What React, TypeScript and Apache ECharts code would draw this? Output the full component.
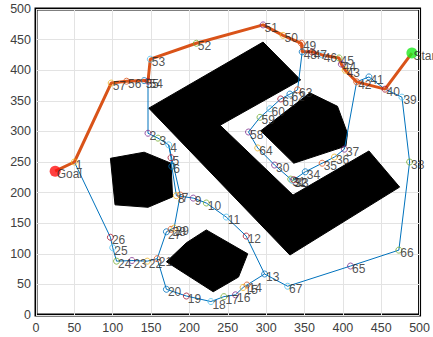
import React, { useEffect, useRef } from "react";
import * as echarts from "echarts";

// Node coordinates (node id = index + 1)
const nodeX = [50,146,159,173,176,177,188,183,205,222,248,274,298,275,270,260,245,228,196,170,158,145,125,105,100,97,170,176,180,311,332,334,336,351,373,389,402,487,477,455,434,418,403,398,395,373,360,347,346,322,296,209,149,146,141,118,98,277,292,305,319,331,341,289,410,473,328];
const nodeY = [250,297,289,278,257,243,196,195,191,183,160,129,67,49,45,33,30,22,31,42,92,88,89,88,110,127,136,140,142,245,222,220,221,234,248,258,271,250,356,369,389,381,400,410,420,425,430,430,444,457,474,444,418,382,383,382,379,299,323,337,353,361,368,273,80,106,47];

const startPoint = [490, 428];
const goalPoint = [25, 235];

// Graph edges drawn as polylines of node ids
const blueRoutes = [
  [1,26,25,24,23,22,21,20,19,18,17,16,15,14,13,67,65,66,38,39,40,41,42,37,36,35,34,33,32,31,30,64,58,59,60,61,62,63,48,47,46,45,44,43,42],
  [54,2,3,4,5,6,8,9,10,11,12,13],
  [4,7,29,28,27,21],
];
// Planned path: 0 = Goal, 100 = Start
const pathRoute = [0,1,57,56,55,54,53,52,51,50,49,48,47,46,45,44,43,42,40,100];

// Obstacles
const obstacleBig = [[147,338],[296,446],[345,384],[240,310],[335,196],[434,268],[474,209],[331,98]];
const obstacleHex = [[293,301],[357,363],[393,341],[406,297],[404,276],[336,248]];
const obstacleLeft = [[97,256],[141,266],[176,248],[178,193],[146,176],[103,180]];
const obstacleLow = [[170,87],[196,118],[222,139],[276,100],[264,62],[231,38]];

const axisTicks = [0,50,100,150,200,250,300,350,400,450,500];

const palette = ["#0072BD","#D95319","#EDB120","#7E2F8E","#77AC30","#4DBEEE","#A2142F"];
const FONT = "'Liberation Sans', Arial, Helvetica, sans-serif";

function pt(id: number): number[] {
  if (id === 0) return goalPoint;
  if (id === 100) return startPoint;
  return [nodeX[id - 1], nodeY[id - 1]];
}

function polySeries(verts: number[][]) {
  return {
    type: "custom",
    z: 1,
    silent: true,
    data: verts,
    renderItem: (params: any, api: any) => {
      if (params.dataIndex !== 0) return null;
      return {
        type: "polygon",
        shape: { points: verts.map((v) => api.coord(v)) },
        style: { fill: "#000", stroke: "#000" },
      };
    },
  };
}

export default function App() {
  const ref = useRef<HTMLDivElement>(null);
  useEffect(() => {
    if (!ref.current) return;
    const chart = echarts.init(ref.current, undefined, { renderer: "svg" });
    const nodes = nodeX.map((x, i) => ({
      value: [x, nodeY[i]],
      name: String(i + 1),
      itemStyle: { color: "rgba(0,0,0,0)", borderColor: palette[(i + 2) % 7], borderWidth: 1 },
    }));
    const series: any[] = [
      polySeries(obstacleBig),
      polySeries(obstacleHex),
      polySeries(obstacleLeft),
      polySeries(obstacleLow),
      ...blueRoutes.map((r) => ({
        type: "line",
        z: 2,
        data: r.map(pt),
        symbol: "none",
        lineStyle: { color: "#0072BD", width: 1 },
        silent: true,
      })),
      {
        type: "line",
        z: 3,
        data: pathRoute.map(pt),
        symbol: "none",
        lineStyle: { color: "#D95319", width: 3 },
        silent: true,
      },
      {
        type: "scatter",
        z: 4,
        data: nodes,
        symbol: "circle",
        symbolSize: 6,
        label: {
          show: true,
          formatter: (p: any) => p.name,
          position: "right",
          distance: 0,
          offset: [-2, 3],
          fontSize: 12,
          fontFamily: FONT,
          color: "#262626",
        },
        silent: true,
      },
      {
        type: "scatter",
        z: 5,
        data: [
          { value: startPoint, name: "Start", itemStyle: { color: "#1EE81E" } },
          { value: goalPoint, name: "Goal", itemStyle: { color: "#FF1010" } },
        ],
        symbol: "circle",
        symbolSize: 11,
        label: {
          show: true,
          formatter: (p: any) => p.name,
          position: "right",
          distance: 0,
          offset: [-4, 3],
          fontSize: 12,
          fontFamily: FONT,
          color: "#262626",
        },
        silent: true,
      },
    ];
    const axisCommon = {
      type: "value",
      min: 0,
      max: 500,
      interval: 50,
      axisLine: { show: false },
      axisTick: { show: false },
      splitLine: { show: true, lineStyle: { color: "#e3e3e3", width: 1 } },
      axisLabel: {
        fontSize: 12.5,
        fontFamily: FONT,
        color: "#404040",
        formatter: (v: number) => (axisTicks.includes(v) ? String(v) : ""),
      },
    };
    chart.setOption({
      animation: false,
      backgroundColor: "#fff",
      grid: {
        left: 36,
        right: 10,
        top: 9,
        bottom: 22,
        show: true,
        borderColor: "#000",
        borderWidth: 3,
      },
      xAxis: { ...axisCommon, axisLabel: { ...axisCommon.axisLabel, margin: 6 } },
      yAxis: { ...axisCommon, axisLabel: { ...axisCommon.axisLabel, margin: 5 } },
      series,
    });
    return () => chart.dispose();
  }, []);
  return (
    <div
      ref={ref}
      style={{ position: "fixed", left: 0, top: 0, width: 433, height: 337, background: "#fff" }}
    />
  );
}
